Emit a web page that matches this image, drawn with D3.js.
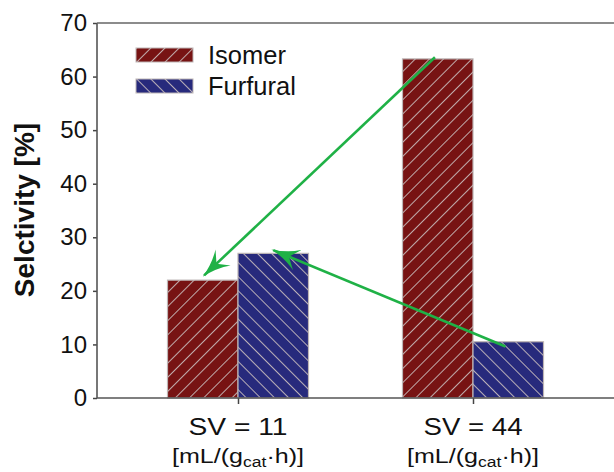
<!DOCTYPE html>
<html>
<head>
<meta charset="utf-8">
<script src="https://cdn.jsdelivr.net/npm/d3@7"></script>
<style>
  body { margin: 0; background: #fff; }
  text { font-family: "Liberation Sans", Arial, sans-serif; fill: #111; }
</style>
</head>
<body>
<svg id="svg" width="614" height="472"></svg>
<script>
var categories = ["SV = 11", "SV = 44"]
var series = ["Isomer", "Furfural"]
var isomer = [22, 63.3]
var furfural = [27, 10.5]
var yTicks = [0, 10, 20, 30, 40, 50, 60, 70]
// arrows: from [category, series, fraction across bar, value] to [...]
var arrowFrom = [["SV = 44", "Isomer", 0.46, 63.6], ["SV = 44", "Furfural", 0.46, 9.6]]
var arrowTo = [["SV = 11", "Isomer", 0.52, 22.9], ["SV = 11", "Furfural", 0.5, 27.6]]

var svg = d3.select("svg")
var margin = {left: 97, top: 23, right: 0, bottom: 74}
var width = 614 - margin.left - margin.right
var height = 472 - margin.top - margin.bottom

var colors = {Isomer: "#771313", Furfural: "#272a7c"}

// 斜線パターン
var defs = svg.append("defs")
function hatch(id, color, angle) {
  var p = defs.append("pattern")
    .attr("id", id)
    .attr("patternUnits", "userSpaceOnUse")
    .attr("width", 10).attr("height", 10)
    .attr("patternTransform", "rotate(" + angle + ")")
  p.append("rect").attr("width", 10).attr("height", 10).attr("fill", color)
  p.append("line").attr("x1", 0).attr("y1", 0).attr("x2", 0).attr("y2", 10)
    .attr("stroke", "#c9bdbd").attr("stroke-width", 1.8)
}
hatch("hIsomer", colors.Isomer, 45)
hatch("hFurfural", colors.Furfural, -45)

var marker = defs.append("marker")
  .attr("id", "arrowhead")
  .attr("viewBox", "0 0 28 22")
  .attr("refX", 26).attr("refY", 11)
  .attr("markerWidth", 28).attr("markerHeight", 22)
  .attr("markerUnits", "userSpaceOnUse")
  .attr("orient", "auto")
marker.append("path").attr("d", "M0,0 Q12,8 28,11 Q12,14 0,22 L9,11 Z").attr("fill", "#1fb146")

var g = svg.append("g").attr("transform", "translate(" + margin.left + "," + margin.top + ")")

var x0 = d3.scalePoint().domain(categories).range([0, width]).padding(0.6)
var groupW = x0.step() * 0.6
var x1 = d3.scaleBand().domain(series).range([-groupW / 2, groupW / 2])
var y = d3.scaleLinear().domain([0, 70]).range([height, 0])

var data = []
categories.forEach(function(c, i) {
  data.push({cat: c, key: "Isomer", value: isomer[i]})
  data.push({cat: c, key: "Furfural", value: furfural[i]})
})

g.selectAll("rect.bar")
  .data(data)
  .enter().append("rect")
  .attr("class", "bar")
  .attr("x", function(d) { return x0(d.cat) + x1(d.key) })
  .attr("y", function(d) { return y(d.value) })
  .attr("width", x1.bandwidth())
  .attr("height", function(d) { return height - y(d.value) })
  .attr("fill", function(d) { return "url(#h" + d.key + ")" })
  .attr("stroke", "#bdb5b5").attr("stroke-width", 1.2)

// 軸
var yAxis = g.append("g").call(d3.axisLeft(y).tickValues(yTicks).tickSize(4).tickPadding(6))
yAxis.select(".domain").remove()
yAxis.selectAll("line").attr("stroke", "#444").attr("stroke-width", 1.5)
yAxis.selectAll("text").attr("font-size", 24).attr("font-family", "Liberation Sans, Arial").attr("fill", "#111")

var xAxis = g.append("g").attr("transform", "translate(0," + height + ")")
  .call(d3.axisBottom(x0).tickSize(6).tickFormat(""))
xAxis.select(".domain").remove()
xAxis.selectAll("line").attr("stroke", "#444").attr("stroke-width", 1.5)

g.append("line").attr("x1", 0).attr("x2", 0).attr("y1", 0).attr("y2", height)
  .attr("stroke", "#555").attr("stroke-width", 1.6)
g.append("line").attr("x1", 0).attr("x2", width).attr("y1", 0).attr("y2", 0)
  .attr("stroke", "#666").attr("stroke-width", 1.6)
g.append("line").attr("x1", 0).attr("x2", width).attr("y1", height).attr("y2", height)
  .attr("stroke", "#555").attr("stroke-width", 1.6)

// x ラベル
categories.forEach(function(c) {
  g.append("text").attr("x", x0(c)).attr("y", height + 37)
    .attr("text-anchor", "middle").attr("font-size", 24)
    .attr("textLength", 99).attr("lengthAdjust", "spacingAndGlyphs").text(c)
  var t = g.append("text").attr("x", x0(c)).attr("y", height + 65)
    .attr("text-anchor", "middle").attr("font-size", 20)
    .attr("textLength", 132).attr("lengthAdjust", "spacingAndGlyphs")
  t.append("tspan").text("[mL/(g")
  t.append("tspan").attr("font-size", 14).attr("dy", 4).text("cat")
  t.append("tspan").attr("dy", -4).text("\u00b7h)]")
})

// y タイトル
svg.append("text")
  .attr("transform", "translate(34,210) rotate(-90)")
  .attr("text-anchor", "middle").attr("font-size", 28).attr("font-weight", "bold")
  .text("Selctivity [%]")

// 凡例
var legend = g.selectAll(".legend").data(series).enter().append("g")
  .attr("transform", function(d, i) { return "translate(39," + (25 + i * 31) + ")" })
legend.append("rect").attr("width", 57).attr("height", 14)
  .attr("fill", function(d) { return "url(#h" + d + ")" })
  .attr("stroke", "#bdb5b5").attr("stroke-width", 1)
legend.append("text").attr("x", 72).attr("y", 16).attr("font-size", 25.5).text(function(d) { return d })

// 矢印
function pt(a) { return [x0(a[0]) + x1(a[1]) + a[2] * x1.bandwidth(), y(a[3])] }
arrowFrom.forEach(function(a, i) {
  var p0 = pt(a), p1 = pt(arrowTo[i])
  g.append("line")
    .attr("x1", p0[0]).attr("y1", p0[1]).attr("x2", p1[0]).attr("y2", p1[1])
    .attr("stroke", "#1fb146").attr("stroke-width", 2.6)
    .attr("marker-end", "url(#arrowhead)")
})
</script>
</body>
</html>
